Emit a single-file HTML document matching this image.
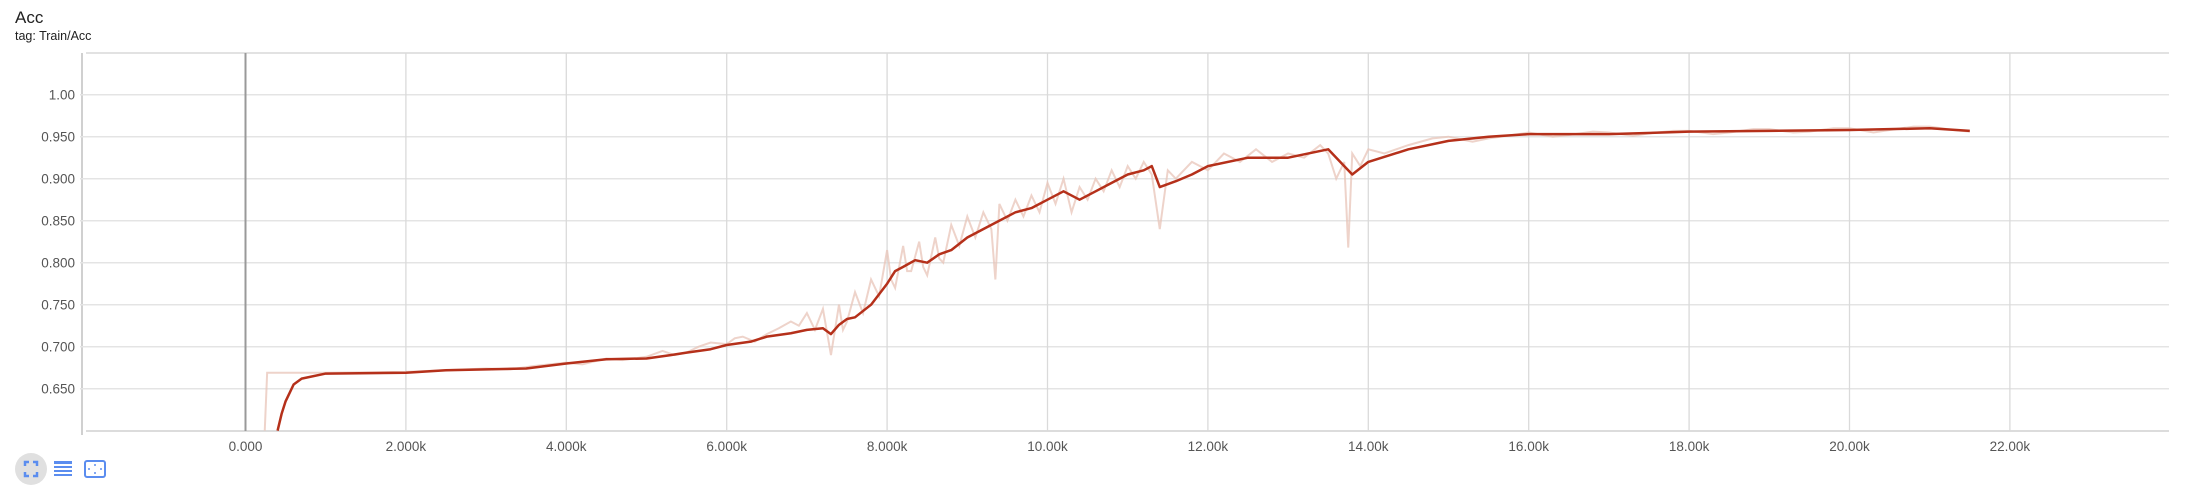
<!DOCTYPE html>
<html><head><meta charset="utf-8"><style>
html,body{margin:0;padding:0;background:#fff;width:2185px;height:491px;overflow:hidden;font-family:"Liberation Sans",sans-serif}
</style></head><body>
<svg width="2185" height="491">
<text x="15" y="23" font-size="17" fill="#212121">Acc</text>
<text x="15" y="40" font-size="12.5" fill="#212121">tag: Train/Acc</text>
<g id="grid"></g>
<g id="series"></g>
<g>
<circle cx="31" cy="469" r="16" fill="#e0e0e0"/>
<path d="M25 466v-4h4M33 462h4v4M37 472v4h-4M29 476h-4v-4" stroke="#5b8def" stroke-width="2.5" fill="none"/>
<g fill="#5b8def"><rect x="54" y="461" width="18" height="3"/><rect x="54" y="466" width="18" height="2"/><rect x="54" y="470" width="18" height="2"/><rect x="54" y="474" width="18" height="2"/></g>
<g><rect x="85" y="461" width="20" height="16" rx="2" fill="none" stroke="#5b8def" stroke-width="2"/><path d="M88 469h2M100 469h2M95 464v2M95 472v2" stroke="#5b8def" stroke-width="1.5"/></g>
</g>
</svg>
<script>
const xTicks=[0,2000,4000,6000,8000,10000,12000,14000,16000,18000,20000,22000];
const xTickLabels=["0.000","2.000k","4.000k","6.000k","8.000k","10.00k","12.00k","14.00k","16.00k","18.00k","20.00k","22.00k"];
const yTicks=[0.65,0.70,0.75,0.80,0.85,0.90,0.95,1.00];
const yTickLabels=["0.650","0.700","0.750","0.800","0.850","0.900","0.950","1.00"];
const smoothSteps=[400,450,500,550,600,700,1000,2000,2500,3000,3500,4000,4500,5000,5300,5500,5800,6000,6300,6500,6800,7000,7200,7300,7400,7500,7600,7800,8000,8100,8200,8350,8500,8650,8800,9000,9300,9600,9800,10000,10200,10400,10600,10800,11000,11200,11300,11400,11600,11800,12000,12500,13000,13500,13700,13800,14000,14500,15000,15500,16000,17000,18000,19000,20000,21000,21500];
const smoothVals=[0.60,0.62,0.635,0.645,0.655,0.662,0.668,0.669,0.672,0.673,0.674,0.68,0.685,0.686,0.690,0.693,0.697,0.702,0.706,0.712,0.716,0.72,0.722,0.715,0.726,0.733,0.735,0.75,0.775,0.79,0.795,0.803,0.80,0.81,0.815,0.83,0.845,0.86,0.865,0.875,0.885,0.875,0.885,0.895,0.905,0.91,0.915,0.89,0.897,0.905,0.915,0.925,0.925,0.935,0.915,0.905,0.92,0.935,0.945,0.95,0.953,0.953,0.956,0.957,0.958,0.96,0.957];
const rawSteps=[240,270,1000,2000,3000,3300,3600,4000,4200,4500,4700,5000,5200,5350,5500,5650,5800,6000,6100,6200,6350,6500,6650,6800,6900,7000,7100,7200,7300,7400,7450,7500,7600,7700,7800,7900,8000,8050,8100,8200,8250,8300,8400,8450,8500,8600,8650,8700,8800,8900,9000,9100,9200,9300,9350,9400,9500,9600,9700,9800,9900,10000,10100,10150,10200,10300,10400,10500,10600,10700,10800,10900,11000,11100,11200,11300,11400,11500,11600,11800,12000,12200,12400,12600,12800,13000,13200,13400,13500,13600,13700,13750,13800,13900,14000,14200,14500,14800,15000,15300,15500,15800,16000,16300,16500,16800,17000,17300,17500,17800,18000,18300,18500,18800,19000,19300,19500,19800,20000,20300,20500,20800,21000,21300,21500];
const rawVals=[0.60,0.669,0.669,0.670,0.674,0.673,0.677,0.681,0.679,0.686,0.684,0.688,0.695,0.690,0.693,0.700,0.705,0.703,0.710,0.712,0.706,0.715,0.722,0.73,0.725,0.74,0.72,0.745,0.69,0.75,0.72,0.73,0.765,0.74,0.78,0.76,0.815,0.78,0.77,0.82,0.79,0.79,0.825,0.795,0.785,0.83,0.805,0.80,0.845,0.82,0.855,0.83,0.86,0.84,0.78,0.87,0.85,0.875,0.855,0.88,0.86,0.895,0.87,0.885,0.90,0.86,0.89,0.875,0.90,0.885,0.91,0.89,0.915,0.90,0.92,0.905,0.84,0.91,0.90,0.92,0.91,0.93,0.92,0.935,0.92,0.93,0.925,0.94,0.93,0.90,0.92,0.818,0.93,0.915,0.935,0.93,0.94,0.948,0.95,0.944,0.948,0.952,0.955,0.950,0.952,0.956,0.955,0.951,0.954,0.957,0.957,0.953,0.955,0.959,0.959,0.955,0.956,0.960,0.96,0.955,0.958,0.962,0.962,0.958,0.956];
const L=86,R=2169,T=53,B=431;
const X=s=>245.5+s*160.4/2000;
const Y=v=>388.7-(v-0.65)*840;
const NS="http://www.w3.org/2000/svg";
const grid=document.getElementById('grid'),ser=document.getElementById('series');
function mk(tag,at,par){const e=document.createElementNS(NS,tag);for(const k in at)e.setAttribute(k,at[k]);par.appendChild(e);return e;}
mk('line',{x1:L,x2:R,y1:T,y2:T,stroke:'#e2e2e2','stroke-width':2},grid);
mk('line',{x1:L,x2:R,y1:B,y2:B,stroke:'#dcdcdc','stroke-width':2},grid);
mk('line',{x1:L-4,x2:L-4,y1:T,y2:B+4,stroke:'#d0d0d0','stroke-width':2},grid);
yTicks.forEach((v,i)=>{
 const l=mk('line',{x1:L-6,x2:R,y1:Y(v),y2:Y(v),stroke:'#e4e4e4','stroke-width':1.5},grid);
 
 
 const t=mk('text',{x:75,y:Y(v)+5,'text-anchor':'end','font-size':13.5,fill:'#555'},grid);
 t.textContent=yTickLabels[i];
 
 
});
xTicks.forEach((s,i)=>{
 const l=mk('line',{x1:X(s),x2:X(s),y1:T,y2:B,stroke:i==0?'#999':'#dadada','stroke-width':i==0?2:1.3},grid);
 
 
 const t=mk('text',{x:X(s),y:451,'text-anchor':'middle','font-size':13.5,fill:'#555'},grid);
 t.textContent=xTickLabels[i];
 
 
});
const rp=mk('polyline',{points:rawSteps.map((s,i)=>X(s)+','+Y(rawVals[i])).join(' '),fill:'none',stroke:'#e8c4b8','stroke-width':2,'stroke-opacity':0.75},ser);


const sp=mk('polyline',{points:smoothSteps.map((s,i)=>X(s)+','+Y(smoothVals[i])).join(' '),fill:'none',stroke:'#b5301a','stroke-width':2.5,'stroke-linejoin':'round'},ser);


</script>
</body></html>
